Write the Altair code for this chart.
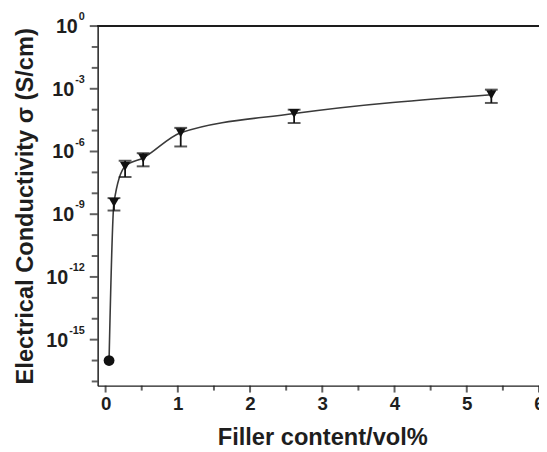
import altair as alt
import pandas as pd

# ---- data ----
filler = [0.048, 0.116, 0.27, 0.52, 1.04, 2.61, 5.34]
sigma = [1.0e-16, 3.6e-9, 1.95e-7, 4.9e-7, 7.9e-6, 6.5e-5, 5.2e-4]
err_hi = [None, 5.9e-9, 3.6e-7, 8.3e-7, 1.35e-5, 1.0e-4, 9.1e-4]
err_lo = [None, 1.5e-9, 6.0e-8, 1.95e-7, 1.74e-6, 2.3e-5, 2.1e-4]
marker = ["circle", "tri", "tri", "tri", "tri", "tri", "tri"]

y_label_exps = [0, -3, -6, -9, -12, -15]
y_minor_exps = [-1, -2, -4, -5, -7, -8, -10, -11, -13, -14, -16, -17]
x_major_ticks = [0, 1, 2, 3, 4, 5, 6]
x_minor_ticks = [0.5, 1.5, 2.5, 3.5, 4.5, 5.5]

df = pd.DataFrame({"filler": filler, "sigma": sigma, "hi": err_hi,
                   "lo": err_lo, "marker": marker})
err_df = df.dropna()
lab_df = pd.DataFrame({"value": [10.0 ** e for e in y_label_exps],
                       "exp": [str(e) for e in y_label_exps]})
ymin_df = pd.DataFrame({"value": [10.0 ** e for e in y_minor_exps]})
xmaj_df = pd.DataFrame({"tick": x_major_ticks})
xmin_df = pd.DataFrame({"tick": x_minor_ticks})

FONT = "Liberation Sans"
INK = "#1e1e1e"
W, H = 448, 365

xscale = alt.Scale(domain=[-0.11, 6.0], nice=False, zero=False)
yscale = alt.Scale(type="log", domain=[10 ** -17.2, 1.0], nice=False)

xaxis = alt.Axis(
    values=x_major_ticks, format="d", ticks=False,
    labelOverlap=False, labelFlush=False,
    labelFont=FONT, labelFontSize=19, labelFontWeight="bold", labelColor=INK,
    labelPadding=9, grid=False, domainColor=INK, domainWidth=1.5,
    title="Filler content/vol%", titleFont=FONT, titleFontSize=24,
    titleFontWeight="bold", titleColor=INK, titleX=228, titleY=60,
    titleAlign="center", titleBaseline="alphabetic",
)
yaxis = alt.Axis(
    values=[10.0 ** e for e in y_label_exps], labels=False, ticks=False, grid=False,
    domainColor=INK, domainWidth=1.5,
    title="Electrical Conductivity σ (S/cm)", titleFont=FONT, titleFontSize=24,
    titleFontWeight="bold", titleColor=INK, titleX=-66, titleY=H / 2,
    titleAngle=-90, titleAlign="center", titleBaseline="alphabetic",
)

base = alt.Chart(df)

line = base.mark_line(color="#3a3a3a", strokeWidth=1.6, interpolate="monotone").encode(
    x=alt.X("filler:Q", scale=xscale, axis=xaxis),
    y=alt.Y("sigma:Q", scale=yscale, axis=yaxis),
)

bars = alt.Chart(err_df).mark_rule(color="#111", strokeWidth=1.8).encode(
    x=alt.X("filler:Q"), y=alt.Y("lo:Q"), y2="hi:Q")
cap_hi = alt.Chart(err_df).mark_tick(color="#111", orient="horizontal", size=13,
                                     thickness=2).encode(x="filler:Q", y="hi:Q")
cap_lo = alt.Chart(err_df).mark_tick(color="#111", orient="horizontal", size=13,
                                     thickness=2).encode(x="filler:Q", y="lo:Q")

tri = base.transform_filter("datum.marker == 'tri'").mark_point(
    shape="triangle-down", filled=True, color="#111", opacity=1, size=110).encode(
    x="filler:Q", y="sigma:Q")
circ = base.transform_filter("datum.marker == 'circle'").mark_point(
    shape="circle", filled=True, color="#111", opacity=1, size=120).encode(
    x="filler:Q", y="sigma:Q")

top_rule = alt.Chart(df).mark_rule(color=INK, strokeWidth=1.5).encode(
    x=alt.value(0), x2=alt.value(W), y=alt.value(0))

# axis ticks (outward): major and minor
y_major = alt.Chart(lab_df).mark_tick(color=INK, orient="horizontal", size=8,
                                      thickness=2, xOffset=-4).encode(
    y=alt.Y("value:Q"), x=alt.value(0))
y_minor = alt.Chart(ymin_df).mark_tick(color=INK, orient="horizontal", size=6,
                                       thickness=2, xOffset=-3).encode(
    y=alt.Y("value:Q"), x=alt.value(0))
x_major = alt.Chart(xmaj_df).mark_tick(color=INK, orient="vertical", size=7,
                                       thickness=2, yOffset=3.5).encode(
    x=alt.X("tick:Q"), y=alt.value(H))
x_minor = alt.Chart(xmin_df).mark_tick(color=INK, orient="vertical", size=5,
                                       thickness=2, yOffset=2.5).encode(
    x=alt.X("tick:Q"), y=alt.value(H))

# y tick labels drawn as "10" + superscript exponent
EXP_FS = 11
label_layers = []
for e in y_label_exps:
    s = str(e)
    w = sum(0.333 * EXP_FS if ch == "-" else 0.556 * EXP_FS for ch in s)
    sub = alt.Chart(lab_df).transform_filter(f"datum.exp == '{s}'")
    label_layers.append(sub.mark_text(
        font=FONT, fontSize=20, fontWeight="bold", color=INK, align="right",
        baseline="middle", dy=1).encode(
        x=alt.value(-13 - w - 1), y=alt.Y("value:Q"), text=alt.value("10")))
    label_layers.append(sub.mark_text(
        font=FONT, fontSize=EXP_FS, fontWeight="bold", color=INK, align="right",
        baseline="middle", dy=-9).encode(
        x=alt.value(-13), y=alt.Y("value:Q"), text="exp:N"))

chart = alt.layer(line, bars, cap_hi, cap_lo, tri, circ, top_rule,
                  y_major, y_minor, x_major, x_minor, *label_layers).properties(
    width=W, height=H,
    autosize=alt.AutoSizeParams(type="none"),
    padding={"left": 91, "top": 15, "right": 0, "bottom": 62},
).configure_view(stroke=None)

chart.save("out.html", embed_options={"renderer": "svg", "actions": False})
